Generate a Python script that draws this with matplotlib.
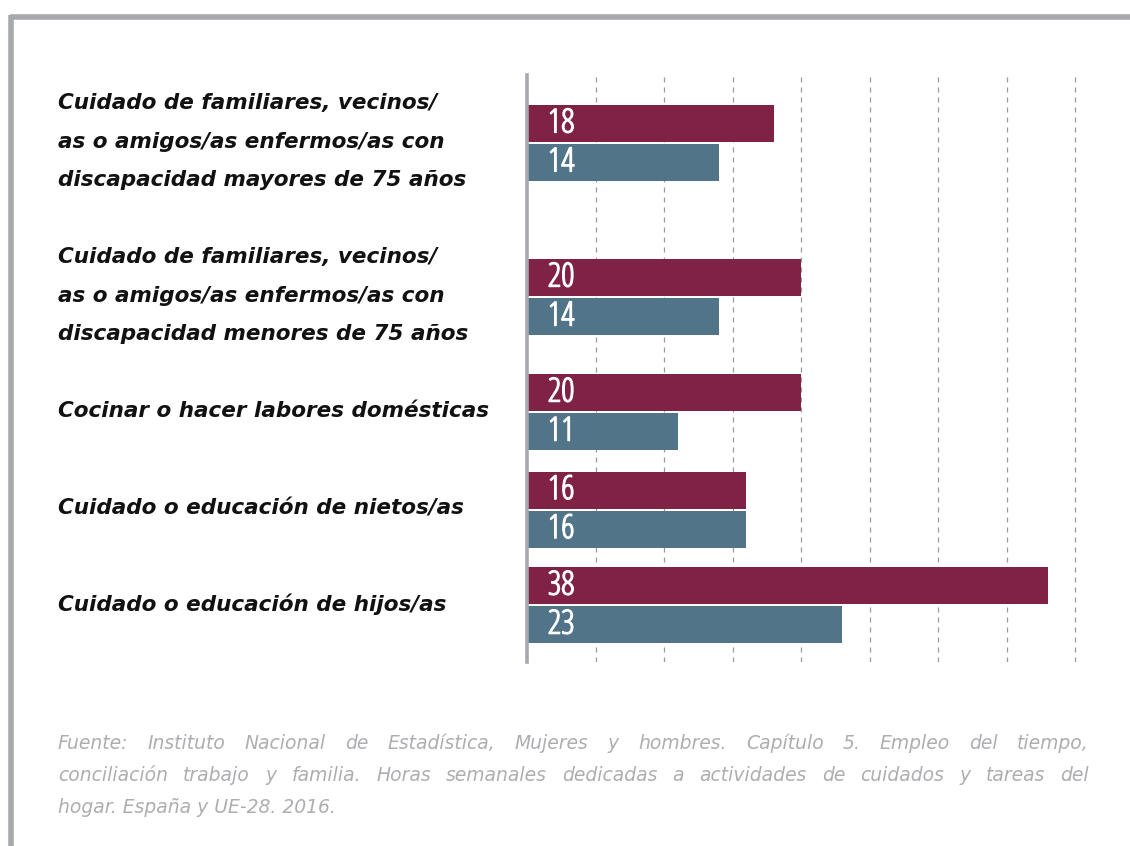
import matplotlib
matplotlib.use("Agg")
import matplotlib.pyplot as plt
import matplotlib.patheffects as pe
from matplotlib import transforms
from matplotlib.lines import Line2D

# ---- data ----
categories = [
    "Cuidado de familiares, vecinos/\nas o amigos/as enfermos/as con\ndiscapacidad mayores de 75 años",
    "Cuidado de familiares, vecinos/\nas o amigos/as enfermos/as con\ndiscapacidad menores de 75 años",
    "Cocinar o hacer labores domésticas",
    "Cuidado o educación de nietos/as",
    "Cuidado o educación de hijos/as",
]
mujeres = [18, 20, 20, 16, 38]
hombres = [14, 14, 11, 16, 23]

footer_lines = [
    "Fuente: Instituto Nacional de Estadística, Mujeres y hombres. Capítulo 5. Empleo del tiempo,",
    "conciliación trabajo y familia. Horas semanales dedicadas a actividades de cuidados y tareas del",
    "hogar. España y UE-28. 2016.",
]

# ---- layout / style ----
RED = "#7f2245"
BLUE = "#517489"
GRAY = "#a8a9ac"
W, H = 1130, 846
group_pos = [1.75, 5.7, 8.65, 11.15, 13.6]   # vertical centre of each group (bar pitch units)
BAR_H = 0.95
XMAX = 40.2
NUM_FONT = dict(family="Open Sans", fontstretch="condensed", fontweight="normal", fontsize=24,
                path_effects=[pe.withStroke(linewidth=0.9, foreground="white")])

fig = plt.figure(figsize=(W / 100, H / 100), dpi=100)
fig.patch.set_facecolor("white")

ax = fig.add_axes([527 / W, 1 - 662 / H, 548 * XMAX / 40 / W, 587 / H])
ax.set_xlim(0, XMAX)
ax.set_ylim(15.05, 0)

ax.barh([p - 0.5 for p in group_pos], mujeres, height=BAR_H, color=RED, zorder=3)
ax.barh([p + 0.5 for p in group_pos], hombres, height=BAR_H, color=BLUE, zorder=3)

for p, v in zip(group_pos, mujeres):
    ax.annotate(str(v), (0, p - 0.5), xytext=(15, 0), textcoords="offset points",
                ha="left", va="center", color="white", zorder=4, **NUM_FONT)
for p, v in zip(group_pos, hombres):
    ax.annotate(str(v), (0, p + 0.5), xytext=(15, 0), textcoords="offset points",
                ha="left", va="center", color="white", zorder=4, **NUM_FONT)

# grid + spines
ax.set_xticks(range(5, 41, 5))
ax.tick_params(length=0, labelbottom=False, labelleft=False)
ax.set_yticks([])
ax.grid(axis="x", color="#9a9a9a", linestyle=(0, (4, 4)), linewidth=0.9, zorder=0)
for s in ["top", "right", "bottom"]:
    ax.spines[s].set_visible(False)
ax.spines["left"].set_color(GRAY)
ax.spines["left"].set_linewidth(2.6)
ax.spines["left"].set_zorder(5)

# category labels
trans = transforms.blended_transform_factory(fig.transFigure, ax.transData)
for p, c in zip(group_pos, categories):
    fig.text(58 / W, p - 0.04, c, transform=trans, ha="left", va="center",
             fontsize=15.5, fontweight="bold", fontstyle="oblique",
             family="DejaVu Sans", linespacing=2.15, color="#111111")

# frame lines (top and left)
fig.add_artist(Line2D([10 / W, 1], [1 - 17 / H, 1 - 17 / H], transform=fig.transFigure,
                      color=GRAY, linewidth=4, solid_capstyle="butt"))
fig.add_artist(Line2D([11 / W, 11 / W], [0, 1 - 15 / H], transform=fig.transFigure,
                      color=GRAY, linewidth=4, solid_capstyle="butt"))

# footer, first lines justified
renderer = fig.canvas.get_renderer()
foot_kw = dict(fontsize=13.5, fontstyle="oblique", fontweight="normal",
               family="DejaVu Sans", color="#adaeb1", va="baseline", ha="left")
x0, x1 = 58, 1089
baselines = [749, 781, 813]
for i, line in enumerate(footer_lines):
    y = 1 - baselines[i] / H
    if i == len(footer_lines) - 1:
        fig.text(x0 / W, y, line, **foot_kw)
        continue
    words = line.split(" ")
    texts = [fig.text(0, y, w_, **foot_kw) for w_ in words]
    widths = [t.get_window_extent(renderer).width for t in texts]
    gap = (x1 - x0 - sum(widths)) / (len(words) - 1)
    xx = x0
    for t, wd in zip(texts, widths):
        t.set_x(xx / W)
        xx += wd + gap

fig.savefig("out.png", dpi=100, facecolor="white")
